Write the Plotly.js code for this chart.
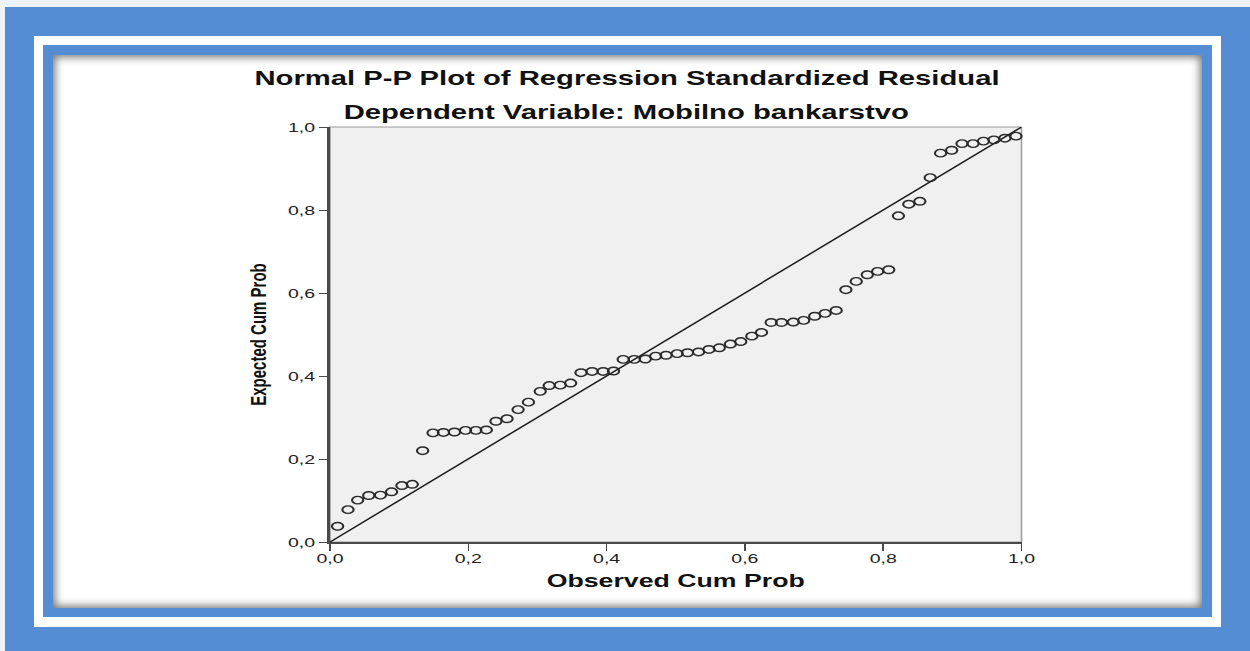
<!DOCTYPE html>
<html>
<head>
<meta charset="utf-8">
<script src="https://cdn.plot.ly/plotly-3.0.1.min.js"></script>
<style>
  html, body { margin:0; padding:0; width:1250px; height:651px; overflow:hidden; background:#eef3fa; }
  .frame { position:absolute; }
  #outerBlue { left:5px; top:7px; right:0; bottom:0; background:#548DD4; }
  #whiteBand { left:34px; top:36px; width:1187px; height:591px; background:#ffffff; }
  #innerBlue { left:43px; top:45px; width:1169px; height:572px; background:#548DD4; }
  #panel { left:53px; top:55px; width:1149px; height:553px; background:#ffffff;
           box-shadow: inset 0 0 9px 2px rgba(0,0,0,0.55); }
  #chart { position:absolute; left:0; top:0; transform-origin:0 0; }
</style>
</head>
<body>
<div class="frame" id="outerBlue"></div>
<div class="frame" id="whiteBand"></div>
<div class="frame" id="innerBlue"></div>
<div class="frame" id="panel"></div>
<div id="chart"></div>
<script>
// Observed cumulative probability (x) and expected cumulative probability (y)
const observedCumProb = [
  0.011, 0.026, 0.040, 0.056, 0.073, 0.089, 0.104, 0.119, 0.134, 0.149,
  0.164, 0.180, 0.196, 0.211, 0.226, 0.240, 0.256, 0.272, 0.287, 0.304,
  0.317, 0.333, 0.348, 0.363, 0.379, 0.395, 0.410, 0.424, 0.440, 0.456,
  0.471, 0.486, 0.502, 0.517, 0.533, 0.548, 0.563, 0.579, 0.594, 0.610,
  0.624, 0.638, 0.653, 0.670, 0.685, 0.701, 0.716, 0.732, 0.746, 0.761,
  0.777, 0.792, 0.808, 0.822, 0.837, 0.853, 0.868, 0.883, 0.899, 0.914,
  0.930, 0.945, 0.960, 0.976, 0.992
];
const expectedCumProb = [
  0.038, 0.078, 0.101, 0.112, 0.113, 0.121, 0.136, 0.139, 0.220, 0.263,
  0.264, 0.265, 0.269, 0.269, 0.270, 0.291, 0.297, 0.319, 0.337, 0.363,
  0.377, 0.378, 0.383, 0.408, 0.411, 0.411, 0.412, 0.440, 0.440, 0.441,
  0.448, 0.450, 0.454, 0.456, 0.458, 0.464, 0.468, 0.477, 0.483, 0.496,
  0.505, 0.529, 0.529, 0.530, 0.534, 0.544, 0.551, 0.558, 0.608, 0.628,
  0.644, 0.652, 0.656, 0.786, 0.814, 0.821, 0.878, 0.937, 0.944, 0.960,
  0.960, 0.966, 0.969, 0.973, 0.978
];
const refLineX = [0, 1];
const refLineY = [0, 1];
const tickValues = [0, 0.2, 0.4, 0.6, 0.8, 1.0];
const titleText = 'Normal P-P Plot of Regression Standardized Residual';
const subtitleText = 'Dependent Variable: Mobilno bankarstvo';
const xTitleText = 'Observed Cum Prob';
const yTitleText = 'Expected Cum Prob';

// The reference image is horizontally stretched; render narrow and stretch.
const S = 1.5;
const W = 1250, H = 651;
const plotL = 330.5, plotR = 1022, plotT = 127.3, plotB = 542.5;
const FONT = '"Liberation Sans", Arial, sans-serif';

const chartDiv = document.getElementById('chart');
chartDiv.style.width = (W / S) + 'px';
chartDiv.style.height = H + 'px';
chartDiv.style.transform = 'scaleX(' + S + ')';

const traces = [
  {
    x: refLineX, y: refLineY, type: 'scatter', mode: 'lines',
    line: { color: '#1a1a1a', width: 1.3 }, hoverinfo: 'skip', showlegend: false
  },
  {
    x: observedCumProb, y: expectedCumProb, type: 'scatter', mode: 'markers',
    marker: { symbol: 'circle', size: 7.5, color: 'rgba(0,0,0,0)',
              line: { color: '#2a2a2a', width: 1.4 } },
    showlegend: false, cliponaxis: false
  }
];

const layout = {
  width: W / S, height: H,
  margin: { l: plotL / S, r: (W - plotR) / S, t: plotT, b: H - plotB, pad: 0 },
  paper_bgcolor: 'rgba(0,0,0,0)',
  plot_bgcolor: '#F0F0F0',
  separators: ',.',
  showlegend: false,
  title: {
    text: '<b>' + titleText + '</b>',
    x: 627 / W, xref: 'container', xanchor: 'center',
    y: 1 - 78 / H, yref: 'container', yanchor: 'middle',
    font: { family: FONT, size: 19.5, color: '#111' }
  },
  annotations: [{
    text: '<b>' + subtitleText + '</b>',
    xref: 'paper', yref: 'paper',
    x: (627 - plotL) / (plotR - plotL), y: (plotB - 112) / (plotB - plotT),
    xanchor: 'center', yanchor: 'middle', showarrow: false,
    font: { family: FONT, size: 19.5, color: '#111' }
  }],
  xaxis: {
    range: [0, 1], tickvals: tickValues, tickformat: '.1f',
    showgrid: false, zeroline: false,
    showline: true, linecolor: '#4a4a4a', linewidth: 2,
    ticks: 'outside', ticklen: 7, tickwidth: 1, tickcolor: '#4a4a4a',
    ticklabelstandoff: -4,
    tickfont: { family: FONT, size: 13, color: '#222' },
    title: { text: '<b>' + xTitleText + '</b>', standoff: 10,
             font: { family: FONT, size: 17.8, color: '#111' } }
  },
  yaxis: {
    range: [0, 1], tickvals: tickValues, tickformat: '.1f',
    showgrid: false, zeroline: false,
    showline: true, linecolor: '#4a4a4a', linewidth: 1.7,
    ticks: 'outside', ticklen: 5.7, tickwidth: 1, tickcolor: '#4a4a4a',
    tickfont: { family: FONT, size: 13, color: '#222' },
    title: { text: '<b>' + yTitleText + '</b>', standoff: 10,
             font: { family: FONT, size: 15, color: '#111' } }
  },
  shapes: [{
    type: 'rect', xref: 'paper', yref: 'paper', x0: 0, y0: 0, x1: 1, y1: 1,
    line: { color: '#9a9a9a', width: 1 }, layer: 'below'
  }]
};

Plotly.newPlot(chartDiv, traces, layout, { staticPlot: true, displayModeBar: false, responsive: false });
</script>
</body>
</html>
